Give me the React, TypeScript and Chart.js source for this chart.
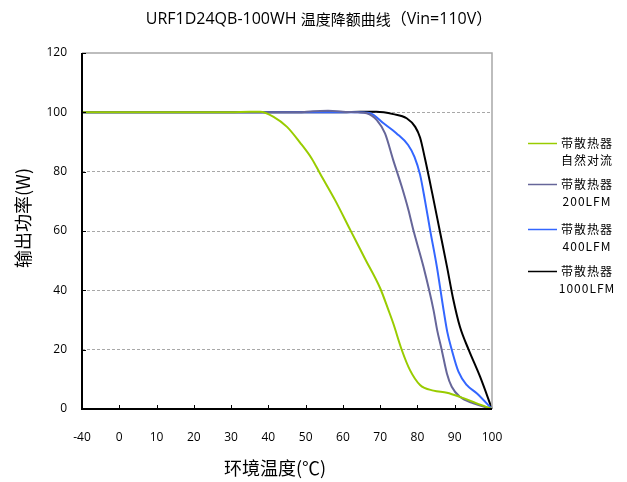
import React, { useEffect, useRef } from "react";
import { Chart, registerables } from "chart.js";

Chart.register(...registerables);

// x positions: -10 stands for the "-40" tick (the axis is evenly spaced)
const xTickLabels: Record<number, string> = { [-10]: "-40" };
const yTicks = [0, 20, 40, 60, 80, 100, 120];

const tempNatural = [-10, 30, 35, 37.8, 41.4, 45, 48.5, 51.7, 53.9, 57.9, 62, 66, 70, 72.2, 73.5, 75.8, 78, 80.7, 84.3, 87.9, 91.4, 95.9, 100];
const powerNatural = [100, 100, 100.2, 100.2, 98.5, 95.1, 89.8, 84.3, 79.3, 70.4, 60.3, 50.5, 40.7, 33.4, 28.9, 19.9, 13.1, 8.1, 6.2, 5.5, 4.1, 1.9, 0];

const temp200 = [-10, 48, 52, 56, 60, 64, 66.4, 69.1, 71.3, 73.5, 75.8, 77.6, 78.9, 81.6, 84.3, 85.3, 86.5, 87.9, 89.2, 91.4, 95, 100];
const power200 = [100, 100, 100.4, 100.5, 100.2, 100, 99.7, 97.4, 92.9, 83.9, 74.9, 67, 60.3, 48, 33.4, 26.5, 20, 12, 7.5, 4.1, 1.9, 0];

const temp400 = [-10, 64, 67.3, 70.9, 74.4, 77.5, 79.2, 80.7, 82, 83.4, 85.2, 87, 88, 89.2, 91, 93.2, 95.9, 100];
const power400 = [100, 100, 99.7, 96.3, 92.9, 89, 85, 79, 70.4, 60.3, 48, 33.4, 26, 20, 12.6, 8.1, 5.3, 0];

const temp1000 = [-10, 60, 64.6, 69, 73.5, 77.1, 79.4, 80.7, 82, 84, 86, 88, 89.6, 91.4, 93.7, 96.8, 100];
const power1000 = [100, 100, 100.2, 100.2, 99.4, 98, 95.1, 91.5, 84.5, 72.5, 60, 47.5, 37, 27.7, 20.1, 10.9, 0];

const legendLabels = [
  ["带散热器", "自然对流"],
  ["带散热器", "200LFM"],
  ["带散热器", "400LFM"],
  ["带散热器", "1000LFM"],
];
const seriesColors = ["#99cc00", "#666699", "#3366ff", "#000000"];

const titleParts = ["URF1D24QB-100WH ", "温度降额曲线", "（Vin=110V）"];
const xTitle = "环境温度(℃)";
const yTitle = "输出功率(W)";

const FONT = "'Open Sans', 'Noto Sans CJK SC', sans-serif";
const CJK = "'Noto Sans CJK SC', sans-serif";

function toPoints(xs: number[], ys: number[]) {
  return xs.map((x, i) => ({ x, y: ys[i] }));
}

const framePlugin = {
  id: "frame",
  afterDraw(chart: any) {
    const { ctx, chartArea } = chart;
    const { left, right, top, bottom } = chartArea;
    const xs = chart.scales.x;
    const ys = chart.scales.y;
    ctx.save();
    // title (three runs, centred as a whole)
    ctx.fillStyle = "#000";
    ctx.textBaseline = "middle";
    ctx.textAlign = "left";
    const fonts = [`16px ${FONT}`, `15px ${CJK}`, `16px ${FONT}`];
    const widths = titleParts.map((t, i) => {
      ctx.font = fonts[i];
      return ctx.measureText(t).width;
    });
    const total = widths.reduce((a, b) => a + b, 0);
    let tx = 319 - total / 2;
    titleParts.forEach((t, i) => {
      ctx.font = fonts[i];
      ctx.fillText(t, tx, 19);
      tx += widths[i];
    });
    // axis titles
    ctx.textAlign = "center";
    ctx.font = `18px ${CJK}`;
    ctx.fillText(xTitle, 275, 468);
    ctx.save();
    ctx.translate(23, 218);
    ctx.rotate(-Math.PI / 2);
    ctx.fillText(yTitle, 0, 0);
    ctx.restore();

    // top and right border (grey)
    ctx.strokeStyle = "#a8a8a8";
    ctx.lineWidth = 1.5;
    ctx.beginPath();
    ctx.moveTo(left, top);
    ctx.lineTo(right, top);
    ctx.lineTo(right, bottom);
    ctx.stroke();
    // inside ticks
    ctx.strokeStyle = "#000";
    ctx.lineWidth = 1;
    ctx.beginPath();
    for (const v of yTicks) {
      const y = Math.round(ys.getPixelForValue(v)) + 0.5;
      ctx.moveTo(left, y);
      ctx.lineTo(left + 4, y);
    }
    for (let v = 0; v <= 90; v += 10) {
      const x = Math.round(xs.getPixelForValue(v)) + 0.5;
      ctx.moveTo(x, bottom);
      ctx.lineTo(x, bottom - 4);
    }
    ctx.stroke();
    // left & bottom axes
    ctx.strokeStyle = "#000";
    ctx.lineWidth = 2;
    ctx.beginPath();
    ctx.moveTo(left, top);
    ctx.lineTo(left, bottom);
    ctx.lineTo(right, bottom);
    ctx.stroke();

    // legend
    const legendTops = [143, 184, 229, 271];
    ctx.font = `12px ${CJK}`;
    (ctx as any).letterSpacing = "1px";
    ctx.textAlign = "center";
    ctx.textBaseline = "middle";
    chart.data.datasets.forEach((ds: any, i: number) => {
      const y0 = legendTops[i];
      ctx.strokeStyle = ds.borderColor;
      ctx.lineWidth = 1.5;
      ctx.beginPath();
      ctx.moveTo(528, y0 + 0.5);
      ctx.lineTo(557, y0 + 0.5);
      ctx.stroke();
      ctx.fillStyle = "#000";
      ds.legendLines.forEach((t: string, j: number) => {
        ctx.fillText(t, 587, y0 + j * 17);
      });
    });
    ctx.restore();
  },
};

export default function App() {
  const ref = useRef<HTMLCanvasElement | null>(null);
  useEffect(() => {
    if (!ref.current) return;
    const sets = [
      [tempNatural, powerNatural],
      [temp200, power200],
      [temp400, power400],
      [temp1000, power1000],
    ];
    const chart = new Chart(ref.current, {
      type: "line",
      data: {
        datasets: sets.map((s, i) => ({
          label: legendLabels[i].join(" "),
          legendLines: legendLabels[i],
          data: toPoints(s[0], s[1]),
          borderColor: seriesColors[i],
          backgroundColor: seriesColors[i],
          borderWidth: 2,
          pointRadius: 0,
          cubicInterpolationMode: "monotone",
          clip: false,
        })) as any,
      },
      options: {
        animation: false,
        responsive: false,
        devicePixelRatio: 1,
        layout: { padding: { left: 0, right: 135, top: 53, bottom: 0 } },
        plugins: {
          legend: { display: false },
          tooltip: { enabled: false },
          title: { display: false },
        },
        scales: {
          x: {
            type: "linear",
            min: -10,
            max: 100,
            afterFit: (s: any) => {
              s.height = 73;
            },
            ticks: {
              stepSize: 10,
              padding: 21,
              color: "#000",
              font: { family: FONT, size: 12 },
              callback: (v: any) => (xTickLabels[v] !== undefined ? xTickLabels[v] : String(v)),
            },
            grid: { display: false, drawTicks: false },
            border: { display: false },
          },
          y: {
            min: 0,
            max: 120,
            afterFit: (s: any) => {
              s.width = 82;
            },
            ticks: {
              stepSize: 20,
              padding: 15,
              color: "#000",
              font: { family: FONT, size: 12 },
            },
            grid: {
              drawTicks: false,
              color: (c: any) => (c.tick && (c.tick.value === 0 || c.tick.value === 120) ? "rgba(0,0,0,0)" : "#a8a8a8"),
              lineWidth: 1,
            },
            border: { display: false, dash: [3, 2] },
          },
        },
      } as any,
      plugins: [framePlugin],
    });
    return () => chart.destroy();
  }, []);
  return (
    <div style={{ position: "fixed", left: 0, top: 0, width: 627, height: 482, background: "#fff" }}>
      <canvas ref={ref} width={627} height={482} style={{ width: 627, height: 482 }} />
    </div>
  );
}
